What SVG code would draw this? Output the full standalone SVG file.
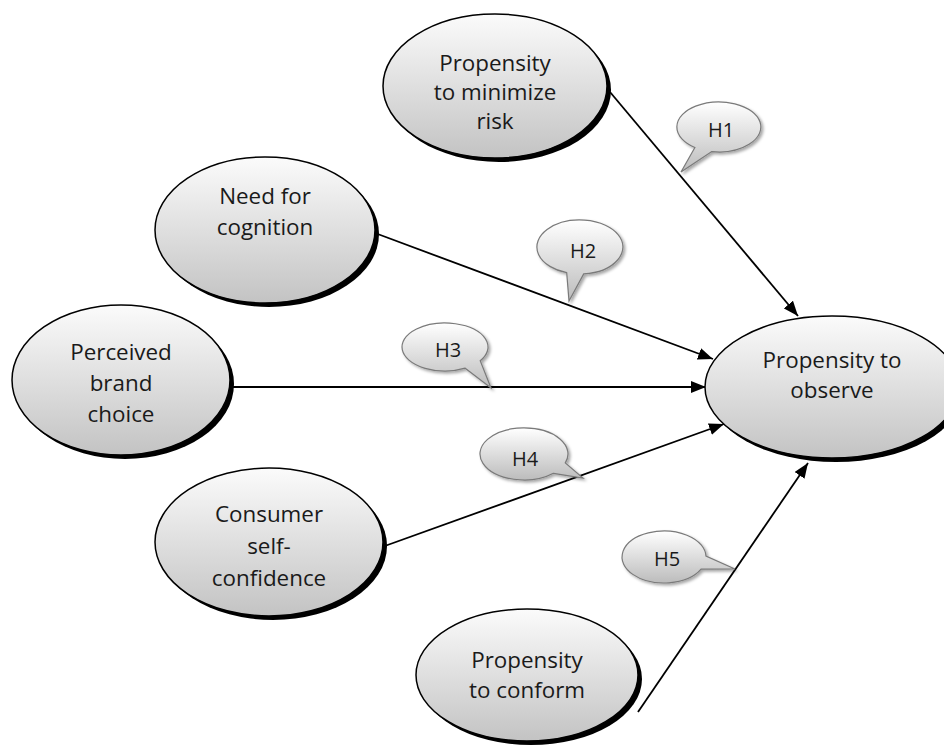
<svg xmlns="http://www.w3.org/2000/svg" width="944" height="752" viewBox="0 0 944 752">
<defs>
<linearGradient id="gNode" x1="0" y1="0" x2="0" y2="1">
<stop offset="0" stop-color="#fbfbfb"/>
<stop offset="1" stop-color="#c3c3c3"/>
</linearGradient>
<linearGradient id="gBub" x1="0" y1="0" x2="0" y2="1">
<stop offset="0" stop-color="#ffffff"/>
<stop offset="1" stop-color="#bcbcbc"/>
</linearGradient>
<filter id="bshadow" x="-20%" y="-20%" width="150%" height="150%">
<feDropShadow dx="2" dy="2" stdDeviation="1.5" flood-color="#000" flood-opacity="0.35"/>
</filter>
<marker id="arrow" markerUnits="userSpaceOnUse" markerWidth="16" markerHeight="12" refX="15" refY="6" orient="auto">
<path d="M0,0 L15,6 L0,12 z" fill="#000"/>
</marker>
</defs>
<style>
.shadow{fill:#000;}
.node{fill:url(#gNode);stroke:#000;stroke-width:1.5;}
.bub{fill:url(#gBub);stroke:#7a7a7a;stroke-width:1.2;filter:url(#bshadow);}
.lbl{font-family:"Open Sans","Liberation Sans",sans-serif;font-size:22.4px;fill:#1a1a1a;text-anchor:middle;}
.hl{font-family:"Open Sans","Liberation Sans",sans-serif;font-size:20px;fill:#1a1a1a;text-anchor:middle;}
.conn{stroke:#000;stroke-width:1.8;fill:none;marker-end:url(#arrow);}
</style>
<rect width="944" height="752" fill="#fff"/>
<g id="connectors">
<line class="conn" x1="610" y1="92" x2="798" y2="316"/>
<line class="conn" x1="375" y1="233" x2="713" y2="359"/>
<line class="conn" x1="230" y1="387" x2="706" y2="387"/>
<line class="conn" x1="382" y1="547" x2="724" y2="424"/>
<line class="conn" x1="638" y1="712" x2="808" y2="463"/>
</g>
<g id="node-risk">
<ellipse class="shadow" cx="499" cy="90" rx="112" ry="72"/>
<ellipse class="node" cx="495" cy="86" rx="112" ry="72"/>
<text class="lbl" x="495" y="71">Propensity</text>
<text class="lbl" x="495" y="100">to minimize</text>
<text class="lbl" x="495" y="129">risk</text>
</g>
<g id="node-cognition">
<ellipse class="shadow" cx="269" cy="234" rx="110" ry="73"/>
<ellipse class="node" cx="265" cy="230" rx="110" ry="73"/>
<text class="lbl" x="265" y="204">Need for</text>
<text class="lbl" x="265" y="235">cognition</text>
</g>
<g id="node-brand">
<ellipse class="shadow" cx="125" cy="384" rx="109" ry="75"/>
<ellipse class="node" cx="121" cy="380" rx="109" ry="75"/>
<text class="lbl" x="121" y="360">Perceived</text>
<text class="lbl" x="121" y="391">brand</text>
<text class="lbl" x="121" y="422">choice</text>
</g>
<g id="node-confidence">
<ellipse class="shadow" cx="273" cy="546" rx="114" ry="74"/>
<ellipse class="node" cx="269" cy="542" rx="114" ry="74"/>
<text class="lbl" x="269" y="522">Consumer</text>
<text class="lbl" x="269" y="554">self-</text>
<text class="lbl" x="269" y="586">confidence</text>
</g>
<g id="node-conform">
<ellipse class="shadow" cx="531" cy="679" rx="111" ry="66"/>
<ellipse class="node" cx="527" cy="675" rx="111" ry="66"/>
<text class="lbl" x="527" y="668">Propensity</text>
<text class="lbl" x="527" y="698">to conform</text>
</g>
<g id="node-observe">
<ellipse class="shadow" cx="836" cy="391" rx="127" ry="71"/>
<ellipse class="node" cx="832" cy="387" rx="127" ry="71"/>
<text class="lbl" x="832" y="368">Propensity to</text>
<text class="lbl" x="832" y="398">observe</text>
</g>
<g id="callout-h1">
<path class="bub" d="M694.9,147.5 L681,172 L711.7,151.6 A42,25 0 1 0 694.9,147.5 Z"/>
<text class="hl" x="721" y="137">H1</text>
</g>
<g id="callout-h2">
<path class="bub" d="M566.7,272.7 L569,301 L583.7,273.9 A43,27 0 1 0 566.7,272.7 Z"/>
<text class="hl" x="583" y="258">H2</text>
</g>
<g id="callout-h3">
<path class="bub" d="M465.2,368.2 L491,388 L480.2,360.8 A43,24 0 1 0 465.2,368.2 Z"/>
<text class="hl" x="448" y="357">H3</text>
</g>
<g id="callout-h4">
<path class="bub" d="M553.4,473.3 L583,478 L565.3,462.9 A44,26 0 1 0 553.4,473.3 Z"/>
<text class="hl" x="525" y="466">H4</text>
</g>
<g id="callout-h5">
<path class="bub" d="M701.1,569.2 L735,569 L706,556.1 A42,26 0 1 0 701.1,569.2 Z"/>
<text class="hl" x="667" y="566">H5</text>
</g>
</svg>
